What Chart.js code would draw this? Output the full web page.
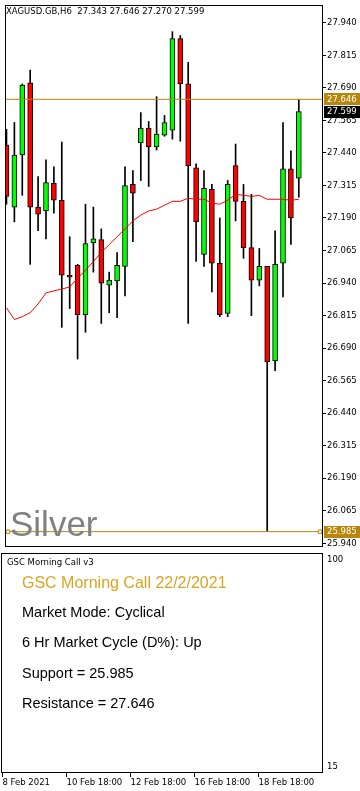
<!DOCTYPE html>
<html>
<head>
<meta charset="utf-8">
<script src="https://cdn.jsdelivr.net/npm/chart.js@4.4.1/dist/chart.umd.min.js"></script>
<style>
  html, body { margin: 0; padding: 0; background: #fff; }
  #wrap { position: relative; width: 360px; height: 791px; overflow: hidden; background: #fff; }
  canvas { position: absolute; left: 0; }
  #main { top: 0; }
  #ind { top: 552px; }
  .txt { position: absolute; white-space: pre; z-index: 2; }
  .small { font-family: "DejaVu Sans"; font-size: 8.5px; line-height: 8.5px; color: #000; }
  .big { font-family: "Liberation Sans", Arial; font-size: 14.5px; line-height: 14.5px; color: #000; left: 22px; }
</style>
</head>
<body>
<div id="wrap">
  <canvas id="main" width="360" height="552"></canvas>
  <canvas id="ind" width="360" height="239"></canvas>

  <div class="txt small" style="left:6px; top:7px;">XAGUSD.GB,H6  27.343 27.646 27.270 27.599</div>
  <div class="txt" style="left:10px; top:506px; font-family:'Liberation Sans',Arial; font-size:35px; line-height:35px; color:#808080;">Silver</div>

  <div class="txt small" style="left:7px; top:557.5px;">GSC Morning Call v3</div>
  <div class="txt" style="left:22px; top:575px; font-family:'Liberation Sans',Arial; font-size:16px; line-height:16px; color:#DAA520;">GSC Morning Call 22/2/2021</div>
  <div class="txt big" style="top:605px;">Market Mode: Cyclical</div>
  <div class="txt big" style="top:635px;">6 Hr Market Cycle (D%): Up</div>
  <div class="txt big" style="top:666px;">Support = 25.985</div>
  <div class="txt big" style="top:696px;">Resistance = 27.646</div>
</div>

<script>
/* ==== data (XAGUSD H6) ==== */
const candleOpen  = [27.470, 27.232, 27.432, 27.709, 27.232, 27.217, 27.323, 27.258, 26.970, 27.008,
                     26.819, 27.095, 27.107, 26.932, 26.948, 27.004, 27.319, 27.478, 27.535, 27.463,
                     27.508, 27.527, 27.879, 27.705, 27.383, 27.050, 27.300, 27.016, 26.823, 27.391,
                     27.254, 27.076, 26.951, 27.004, 26.641, 27.016, 27.379, 27.343];
const candleHigh  = [27.531, 27.557, 27.705, 27.758, 27.349, 27.413, 27.387, 27.482, 27.118, 27.012,
                     27.243, 27.232, 27.148, 26.982, 27.057, 27.387, 27.372, 27.595, 27.561, 27.656,
                     27.584, 27.906, 27.891, 27.788, 27.398, 27.372, 27.319, 27.190, 27.334, 27.474,
                     27.319, 27.281, 27.073, 27.004, 27.141, 27.557, 27.448, 27.646];
const candleLow   = [27.243, 27.175, 27.277, 27.012, 27.141, 27.110, 27.209, 26.770, 26.842, 26.648,
                     26.751, 26.982, 26.785, 26.826, 26.807, 26.891, 27.099, 27.334, 27.311, 27.451,
                     27.504, 27.493, 27.485, 26.785, 27.023, 27.004, 26.906, 26.811, 26.811, 27.179,
                     27.035, 26.815, 26.929, 25.985, 26.603, 26.887, 27.088, 27.270];
const candleClose = [27.273, 27.432, 27.701, 27.232, 27.205, 27.326, 27.258, 26.970, 26.963, 26.819,
                     27.092, 27.110, 26.940, 26.951, 27.008, 27.315, 27.285, 27.535, 27.463, 27.512,
                     27.557, 27.879, 27.705, 27.391, 27.175, 27.304, 27.016, 26.819, 27.319, 27.254,
                     27.076, 26.951, 27.004, 26.637, 27.012, 27.379, 27.190, 27.599];
const maLine      = [26.845, 26.800, 26.811, 26.826, 26.860, 26.902, 26.910, 26.917, 26.925, 26.959,
                     26.989, 27.023, 27.057, 27.088, 27.118, 27.148, 27.179, 27.201, 27.217, 27.224,
                     27.239, 27.254, 27.254, 27.266, 27.262, 27.262, 27.247, 27.243, 27.258, 27.281,
                     27.277, 27.273, 27.277, 27.262, 27.262, 27.262, 27.258, 27.262];

const priceTicks = [27.940, 27.815, 27.690, 27.565, 27.440, 27.315, 27.190, 27.065, 26.940,
                    26.815, 26.690, 26.565, 26.440, 26.315, 26.190, 26.065, 25.940];
const timeTickBars   = [0, 8, 16, 24, 32];
const timeTickLabels = ["8 Feb 2021", "10 Feb 18:00", "12 Feb 18:00", "16 Feb 18:00", "18 Feb 18:00"];
const indicatorTicks = [100, 15];

const resistanceLevel = 27.646;
const supportLevel = 25.985;
const lastPrice = 27.599;
const supportSpan = [0.19, 39.69];     // bar index where the support line starts / ends
const tagValues = [resistanceLevel, lastPrice, supportLevel];

/* ==== layout / styles ==== */
const X_MIN = -0.1875, X_MAX = 40.0625;
const GOLD = "#B8860B";
const tagColors = [GOLD, "#000000", GOLD];
const tickFont = { family: "DejaVu Sans", size: 8.5 };

const bars = candleOpen.map((_, i) => i);

const framePlugin = {
  id: "frame",
  afterDraw(chart) {
    const { ctx, chartArea: a } = chart;
    ctx.save();
    ctx.strokeStyle = "#000"; ctx.lineWidth = 1;
    ctx.strokeRect(a.left + 0.5, a.top + 0.5, a.right - a.left - 1, a.bottom - a.top - 1);
    ctx.restore();
  }
};

const tagPlugin = {
  id: "tags",
  afterDraw(chart) {
    const { ctx } = chart, y = chart.scales.y;
    ctx.save();
    ctx.font = "8.5px 'DejaVu Sans'";
    ctx.textBaseline = "middle"; ctx.textAlign = "left";
    tagValues.forEach((v, i) => {
      const py = y.getPixelForValue(v);
      ctx.fillStyle = tagColors[i];
      ctx.fillRect(y.left + 1, Math.round(py) - 6, 37, 12);
      ctx.fillStyle = "#fff";
      ctx.fillText(v.toFixed(3), y.left + 4, py + 0.5);
    });
    ctx.restore();
  }
};

function fixY(scale) { scale.width = 37; scale.paddingTop = 0; scale.paddingBottom = 0; }

/* ==== main price pane ==== */
new Chart(document.getElementById("main"), {
  type: "bar",
  data: {
    datasets: [
      { type: "line", data: bars.map(i => ({ x: i, y: maLine[i] })), borderColor: "#FF0000",
        borderWidth: 1, pointRadius: 0, tension: 0 },
      { type: "line", data: [{ x: X_MIN, y: resistanceLevel }, { x: X_MAX, y: resistanceLevel }],
        borderColor: GOLD, borderWidth: 1, pointRadius: 0 },
      { type: "line", data: supportSpan.map(x => ({ x, y: supportLevel })),
        borderColor: GOLD, borderWidth: 1, pointStyle: "rect", pointRadius: 2.5,
        pointBackgroundColor: "#fff", pointBorderColor: GOLD, pointBorderWidth: 1 },
      { data: bars.map(i => ({ x: i, y: [candleOpen[i], candleClose[i]] })),
        backgroundColor: bars.map(i => candleClose[i] >= candleOpen[i] ? "#00FF00" : "#FF0000"),
        borderColor: "#000", borderWidth: 1, borderSkipped: false, barThickness: 5, grouped: false },
      { data: bars.map(i => ({ x: i, y: [candleLow[i], candleHigh[i]] })),
        backgroundColor: "#000", borderWidth: 0, barThickness: 1, grouped: false }
    ]
  },
  options: {
    responsive: false, animation: false, devicePixelRatio: 1,
    layout: { padding: { left: 1, top: 2, right: 0, bottom: 1 } },
    plugins: { legend: { display: false }, tooltip: { enabled: false } },
    scales: {
      x: { type: "linear", display: false, offset: false, min: X_MIN, max: X_MAX },
      y: {
        position: "right", min: 25.926, max: 28.0083,
        afterBuildTicks: s => { s.ticks = priceTicks.map(v => ({ value: v })); },
        afterFit: fixY,
        ticks: { font: tickFont, color: "#000", padding: 1, callback: v => v.toFixed(3) },
        grid: { drawOnChartArea: false, drawTicks: true, tickLength: 3, tickColor: "#000" },
        border: { display: false }
      }
    }
  },
  plugins: [framePlugin, tagPlugin]
});

/* ==== indicator pane ==== */
new Chart(document.getElementById("ind"), {
  type: "line",
  data: { datasets: [] },
  options: {
    responsive: false, animation: false, devicePixelRatio: 1,
    layout: { padding: { left: 1, top: 1, right: 0, bottom: 0 } },
    plugins: { legend: { display: false }, tooltip: { enabled: false } },
    scales: {
      x: {
        type: "linear", position: "bottom", offset: false, min: X_MIN, max: X_MAX,
        afterBuildTicks: s => { s.ticks = timeTickBars.map(v => ({ value: v })); },
        afterFit: s => { s.height = 18; s.paddingLeft = 0; s.paddingRight = 0; },
        ticks: { font: tickFont, color: "#000", padding: 1, align: "start", autoSkip: false, maxRotation: 0,
                 callback: v => timeTickLabels[timeTickBars.indexOf(v)] },
        grid: { drawOnChartArea: false, drawTicks: true, tickLength: 4, tickColor: "#000" },
        border: { display: false }
      },
      y: {
        position: "right", min: 12.54, max: 102.87,
        afterBuildTicks: s => { s.ticks = indicatorTicks.map(v => ({ value: v })); },
        afterFit: fixY,
        ticks: { font: tickFont, color: "#000", padding: 4, callback: v => String(v) },
        grid: { drawOnChartArea: false, drawTicks: false },
        border: { display: false }
      }
    }
  },
  plugins: [framePlugin]
});
</script>
</body>
</html>
